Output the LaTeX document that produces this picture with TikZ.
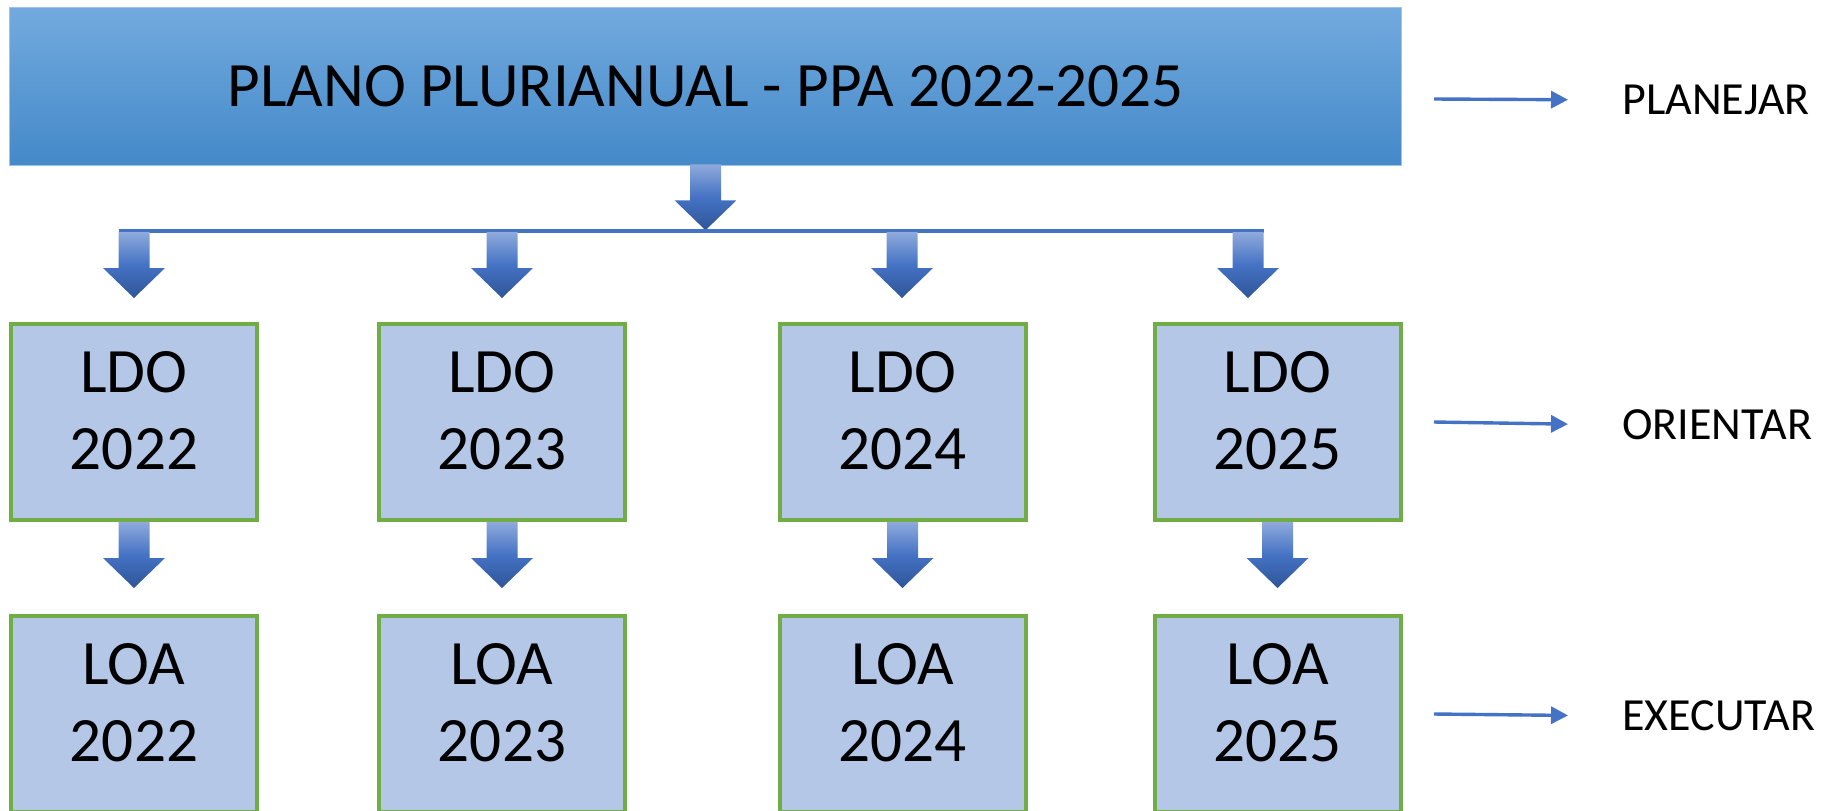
\documentclass[tikz,border=0pt]{standalone}
\usepackage{fontspec}
\setmainfont{Carlito}
\usepackage{tikz}
\usetikzlibrary{calc,arrows.meta}
\definecolor{ppatop}{RGB}{114,170,222}
\definecolor{ppabot}{RGB}{68,137,201}
\definecolor{ppaline}{RGB}{157,195,230}
\definecolor{boxfill}{RGB}{180,199,231}
\definecolor{boxline}{RGB}{112,173,71}
\definecolor{arrtop}{RGB}{143,170,220}
\definecolor{arrmid}{RGB}{68,114,196}
\definecolor{arrbot}{RGB}{47,85,151}
\definecolor{linkblue}{RGB}{68,114,196}
\newcommand{\bigfont}{\fontsize{31.6}{38.5}\selectfont}
\newcommand{\sidefont}{\fontsize{23}{28}\selectfont}
\tikzset{
    ppabox/.style={draw=ppaline,line width=0.75pt,top color=ppatop,bottom color=ppabot,
                   minimum width=696pt,minimum height=79pt,inner sep=0pt,font=\bigfont},
    yrbox/.style={draw=boxline,line width=2pt,fill=boxfill,minimum width=123pt,
                  minimum height=98pt,inner sep=0pt,align=center,font=\bigfont},
    sidelabel/.style={inner sep=0pt,anchor=west,font=\sidefont},
    barline/.style={linkblue,line width=2pt},
    sidearrow/.style={linkblue,line width=1.7pt,-{Triangle[length=8.5pt,width=8.5pt]},shorten >=27pt},
    blockdown/.pic={
        \shade[top color=arrtop,bottom color=arrbot,middle color=arrmid]
            (-15.5,0) -- (-15.5,36) -- (-31,36) -- (0,66) -- (31,36) -- (15.5,36) -- (15.5,0) -- cycle;
    }
}

\begin{document}
\begin{tikzpicture}[x=0.5pt,y=-0.5pt]
    \useasboundingbox (0,0) rectangle (1832,810);

    \node[ppabox] (ppa) at (705.5,86.5) {PLANO PLURIANUAL - PPA 2022-2025};

    \foreach \yr/\x in {2022/134,2023/502,2024/902.5,2025/1277.5}
    {
        \node[yrbox] (ldo\yr) at (\x,422) {LDO\\\yr\strut};
        \node[yrbox] (loa\yr) at (\x,714) {LOA\\\yr\strut};
        \pic at (ldo\yr.south) {blockdown};
    }

    \pic at ($(ppa.south)+(0,-2)$) {blockdown};
    \coordinate (barl) at (118.5,231);
    \coordinate (barr) at (1263.5,231);
    \draw[barline] (barl) -- (barr);
    \foreach \x in {134,502,902,1248}
    {
        \pic at (\x,232) {blockdown};
    }

    \node[sidelabel] (planejar) at (1622,100) {PLANEJAR};
    \node[sidelabel] (orientar) at (1622,425) {ORIENTAR};
    \node[sidelabel] (executar) at (1622,716) {EXECUTAR};

    \coordinate (sa1) at (1434,99);
    \coordinate (sa2) at (1434,422);
    \coordinate (sa3) at (1434,714);
    \draw[sidearrow] (sa1) -- (planejar.west);
    \draw[sidearrow] (sa2) -- (orientar.west);
    \draw[sidearrow] (sa3) -- (executar.west);
\end{tikzpicture}
\end{document}
